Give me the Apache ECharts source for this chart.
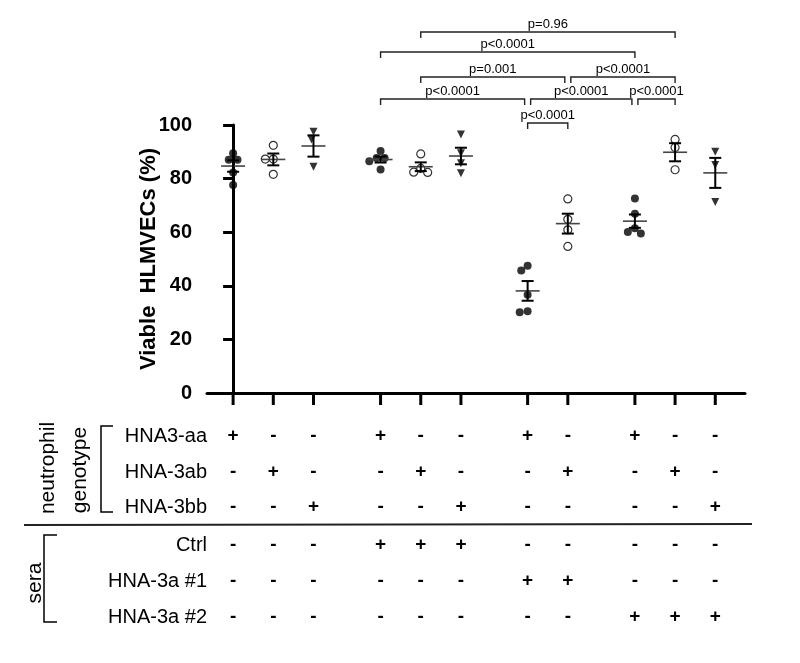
<!DOCTYPE html>
<html><head><meta charset="utf-8">
<script src="https://cdn.jsdelivr.net/npm/echarts@6/dist/echarts.min.js"></script>
<style>html,body{margin:0;padding:0;background:#fff}#c{width:800px;height:663px}</style>
</head><body><div id="c"></div>
<script>
// ---------- data ----------
const groupPos = [0, 1, 2, 3.67, 4.67, 5.67, 7.33, 8.33, 10, 11, 12];
const genotype = ['aa', 'ab', 'bb', 'aa', 'ab', 'bb', 'aa', 'ab', 'aa', 'ab', 'bb'];
const sera = ['none', 'none', 'none', 'Ctrl', 'Ctrl', 'Ctrl', '#1', '#1', '#2', '#2', '#2'];
const g1 = [89.5, 87.0, 87.0, 82.3, 77.6];
const g2 = [92.4, 87.3, 87.3, 81.6];
const g3 = [97.5, 94.6, 84.4];
const g4 = [90.3, 87.7, 87.7, 86.5, 83.4];
const g5 = [89.2, 83.8, 82.3, 82.4];
const g6 = [96.5, 89.5, 85.7, 82.0];
const g7 = [47.5, 45.7, 36.7, 30.1, 30.5];
const g8 = [72.4, 64.8, 60.9, 54.7];
const g9 = [72.6, 66.9, 61.5, 59.5, 60.1];
const g10 = [94.6, 91.6, 83.3];
const g11 = [90.0, 85.1, 71.3];
const groupValues = [g1, g2, g3, g4, g5, g6, g7, g8, g9, g10, g11];
const yTicks = [0, 20, 40, 60, 80, 100];
const genotypeRows = [['aa', 'HNA3-aa'], ['ab', 'HNA-3ab'], ['bb', 'HNA-3bb']];
const seraRows = [['Ctrl', 'Ctrl'], ['#1', 'HNA-3a #1'], ['#2', 'HNA-3a #2']];
// [from group, to group, tier, label]
const brackets = [
  [4, 9, 0, 'p=0.96'],
  [3, 8, 1, 'p<0.0001'],
  [4, 7, 2, 'p=0.001'],
  [7, 9, 2, 'p<0.0001'],
  [3, 6, 3, 'p<0.0001'],
  [6, 8, 3, 'p<0.0001'],
  [8, 9, 3, 'p<0.0001'],
  [6, 7, 4, 'p<0.0001']
];

// ---------- layout ----------
const tierY = [32, 52, 77, 99, 123];
const rowY = [436, 472, 507, 545, 581, 617];
const FONT = 'Liberation Sans, Arial, sans-serif';

const chart = echarts.init(document.getElementById('c'), null, {renderer: 'canvas'});
const base = {
  animation: false,
  grid: {left: 207, right: 55, top: 125, bottom: 270},
  xAxis: {type: 'value', min: -0.65, max: 12.74,
    axisLine: {show: true, onZero: false, lineStyle: {color: '#000', width: 3}},
    axisTick: {show: false}, axisLabel: {show: false}, splitLine: {show: false}},
  yAxis: {type: 'value', min: 0, max: 100, interval: 20,
    name: 'Viable  HLMVECs (%)', nameLocation: 'middle', nameGap: 47, nameRotate: 90,
    nameMoveOverlap: false,
    nameTextStyle: {fontFamily: FONT, fontWeight: 'bold', fontSize: 22, color: '#000'},
    axisLine: {show: true, lineStyle: {color: '#000', width: 3}},
    axisTick: {show: true, length: 10, lineStyle: {width: 3, color: '#000'}},
    axisLabel: {margin: 15, fontFamily: FONT, fontWeight: 'bold', fontSize: 20, color: '#000'},
    splitLine: {show: false}}
};
chart.setOption(base);
const p0 = chart.convertToPixel({gridIndex: 0}, [0, 0]);
const p1 = chart.convertToPixel({gridIndex: 0}, [1, 10]);
const pxX = p1[0] - p0[0];
const pxY = (p0[1] - p1[1]) / 10;

// beeswarm offsets (in x data units) so symbols do not overlap
function swarm(vals, d) {
  const order = vals.map((v, i) => i).sort((a, b) => vals[b] - vals[a]);
  const placed = [];
  const off = new Array(vals.length).fill(0);
  order.forEach(i => {
    const y = vals[i] * pxY;
    const cands = [0];
    placed.forEach(p => {
      const dy = Math.abs(p.y - y);
      if (dy < d) {
        const dx = Math.sqrt(d * d - dy * dy);
        cands.push(p.x - dx, p.x + dx);
      }
    });
    cands.sort((a, b) => Math.abs(a) - Math.abs(b) || a - b);
    let chosen = 0;
    for (const c of cands) {
      const ok = placed.every(p => Math.hypot(p.x - c, p.y - y) >= d - 0.01);
      if (ok) { chosen = c; break; }
    }
    placed.push({x: chosen, y: y});
    off[i] = chosen / pxX;
  });
  return off;
}

const scatterData = {aa: [], ab: [], bb: []};
const statData = [];
groupValues.forEach((vals, gi) => {
  const off = swarm(vals, 8);
  vals.forEach((v, k) => scatterData[genotype[gi]].push([groupPos[gi] + off[k], v]));
  const n = vals.length;
  const mean = vals.reduce((a, b) => a + b, 0) / n;
  const sd = Math.sqrt(vals.reduce((a, b) => a + (b - mean) * (b - mean), 0) / (n - 1));
  statData.push([groupPos[gi], mean, sd / Math.sqrt(n)]);
});

// bracket insets where brackets meet on the same tier
const bracketData = brackets.map((b, i) => {
  let li = 0, ri = 0;
  brackets.forEach((o, j) => {
    if (j === i || o[2] !== b[2]) return;
    if (o[1] === b[0]) li = 3;
    if (o[0] === b[1]) ri = -3;
  });
  return [groupPos[b[0]], groupPos[b[1]], b[2], li, ri, b[3]];
});

const signStyle = {fontFamily: FONT, fontWeight: 'bold', fontSize: 19, fill: '#000', align: 'center', verticalAlign: 'middle'};

chart.setOption({
  series: [
    {type: 'scatter', name: 'aa', data: scatterData.aa, symbol: 'circle', symbolSize: 8,
      itemStyle: {color: '#000'}, z: 3},
    {type: 'scatter', name: 'ab', data: scatterData.ab, symbol: 'circle', symbolSize: 8,
      itemStyle: {color: '#fff', borderColor: '#000', borderWidth: 1.2}, z: 3},
    {type: 'scatter', name: 'bb', data: scatterData.bb, symbol: 'triangle', symbolSize: 8, symbolRotate: 180,
      itemStyle: {color: '#000'}, z: 3},
    {type: 'custom', name: 'meanSem', data: statData, z: 4, clip: false,
      renderItem: function (params, api) {
        const x = api.value(0), m = api.value(1), s = api.value(2);
        const c = api.coord([x, m]), hi = api.coord([x, m + s]), lo = api.coord([x, m - s]);
        const mw = 12, cw = 6;
        return {type: 'group', children: [
          {type: 'line', shape: {x1: c[0] - mw, y1: c[1], x2: c[0] + mw, y2: c[1]}, style: {stroke: '#444', lineWidth: 1.6}},
          {type: 'line', shape: {x1: c[0], y1: hi[1], x2: c[0], y2: lo[1]}, style: {stroke: '#000', lineWidth: 2}},
          {type: 'line', shape: {x1: c[0] - cw, y1: hi[1], x2: c[0] + cw, y2: hi[1]}, style: {stroke: '#000', lineWidth: 2}},
          {type: 'line', shape: {x1: c[0] - cw, y1: lo[1], x2: c[0] + cw, y2: lo[1]}, style: {stroke: '#000', lineWidth: 2}}
        ]};
      }},
    {type: 'custom', name: 'xTicks', data: groupPos.map((x, i) => [x, i]), z: 2, clip: false, silent: true,
      renderItem: function (params, api) {
        const c = api.coord([api.value(0), 0]);
        return {type: 'line', shape: {x1: c[0], y1: c[1], x2: c[0], y2: c[1] + 12}, style: {stroke: '#000', lineWidth: 3}};
      }},
    {type: 'custom', name: 'table', data: groupPos.map((x, i) => [x, i]), z: 2, clip: false, silent: true,
      renderItem: function (params, api) {
        const gi = api.value(1);
        const cx = api.coord([api.value(0), 0])[0];
        const children = [];
        genotypeRows.forEach((r, k) => children.push({type: 'text', x: cx, y: rowY[k],
          style: Object.assign({text: genotype[gi] === r[0] ? '+' : '-'}, signStyle)}));
        seraRows.forEach((r, k) => children.push({type: 'text', x: cx, y: rowY[3 + k],
          style: Object.assign({text: sera[gi] === r[0] ? '+' : '-'}, signStyle)}));
        return {type: 'group', children: children};
      }},
    {type: 'custom', name: 'brackets', data: bracketData, z: 2, clip: false, silent: true,
      renderItem: function (params, api) {
        const b = bracketData[params.dataIndex];
        const xa = api.coord([b[0], 0])[0] + b[3];
        const xb = api.coord([b[1], 0])[0] + b[4];
        const y = tierY[b[2]];
        return {type: 'group', children: [
          {type: 'polyline', shape: {points: [[xa, y + 6], [xa, y], [xb, y], [xb, y + 6]]},
            style: {stroke: '#222', lineWidth: 1.4, fill: null}},
          {type: 'text', x: (xa + xb) / 2, y: y - 1,
            style: {text: b[5], fontFamily: FONT, fontSize: 13, fill: '#000', align: 'center', verticalAlign: 'bottom'}}
        ]};
      }}
  ],
  graphic: [].concat(
    genotypeRows.map((r, k) => ({type: 'text', x: 207, y: rowY[k],
      style: {text: r[1], fontFamily: FONT, fontSize: 20, fill: '#000', align: 'right', verticalAlign: 'middle'}})),
    seraRows.map((r, k) => ({type: 'text', x: 207, y: rowY[3 + k],
      style: {text: r[1], fontFamily: FONT, fontSize: 20, fill: '#000', align: 'right', verticalAlign: 'middle'}})),
    [
      {type: 'text', x: 48, y: 468, rotation: Math.PI / 2,
        style: {text: 'neutrophil', fontFamily: FONT, fontSize: 21, fill: '#000', align: 'center', verticalAlign: 'middle'}},
      {type: 'text', x: 80, y: 470, rotation: Math.PI / 2,
        style: {text: 'genotype', fontFamily: FONT, fontSize: 21, fill: '#000', align: 'center', verticalAlign: 'middle'}},
      {type: 'polyline', shape: {points: [[113, 426], [101, 426], [101, 512], [113, 512]]},
        style: {stroke: '#000', lineWidth: 1.5, fill: null}},
      {type: 'line', shape: {x1: 24, y1: 525, x2: 752, y2: 524}, style: {stroke: '#222', lineWidth: 2}},
      {type: 'text', x: 35, y: 583, rotation: Math.PI / 2,
        style: {text: 'sera', fontFamily: FONT, fontSize: 21, fill: '#000', align: 'center', verticalAlign: 'middle'}},
      {type: 'polyline', shape: {points: [[57, 535], [44, 535], [44, 622], [57, 622]]},
        style: {stroke: '#000', lineWidth: 1.5, fill: null}}
    ]
  )
});
</script>
</body></html>
